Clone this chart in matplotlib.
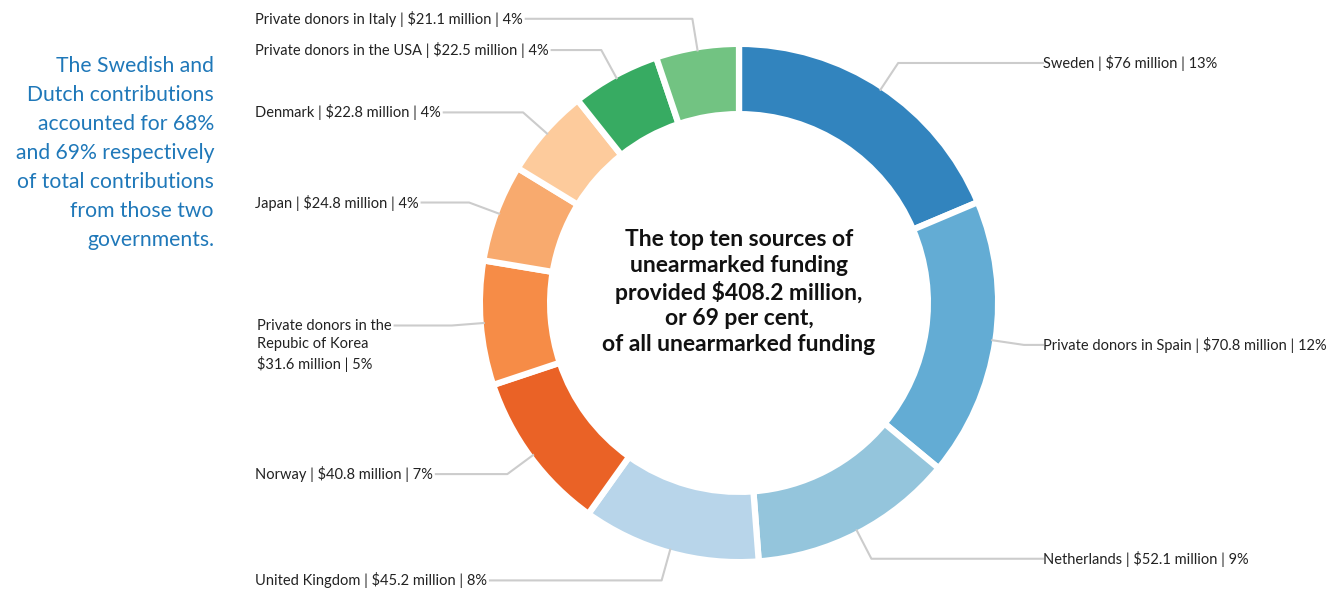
import numpy as np
import matplotlib
matplotlib.use("Agg")
import matplotlib.pyplot as plt

# ---- data ----
donors = ["Sweden", "Private donors in Spain", "Netherlands", "United Kingdom", "Norway",
          "Private donors in the\nRepubic of Korea\n", "Japan", "Denmark",
          "Private donors in the USA", "Private donors in Italy"]
values = [76, 70.8, 52.1, 45.2, 40.8, 31.6, 24.8, 22.8, 22.5, 21.1]
percents = [13, 12, 9, 8, 7, 5, 4, 4, 4, 4]
colors = ["#3284be", "#63acd4", "#94c5dc", "#b8d5ea", "#ea6226",
          "#f68c47", "#f8aa6e", "#fdcb9c", "#37ab62", "#72c382"]
center_text = ("The top ten sources of\nunearmarked funding\nprovided $408.2 million,\n"
               "or 69 per cent,\nof all unearmarked funding")
side_note = ("The Swedish and\nDutch contributions\naccounted for 68%\nand 69% respectively\n"
             "of total contributions\nfrom those two\ngovernments.")

FONT = "Lato"
W, H = 1336, 592
fig = plt.figure(figsize=(W / 100, H / 100), dpi=100)
ax = fig.add_axes([0, 0, 1, 1])

cx, cy = 739, H - 303
R_out, R_in = 256, 192
gap_pt = 4.5
gap_px = gap_pt * 100 / 72

wedges, _ = ax.pie(values, colors=colors, startangle=90, counterclock=False,
                   center=(cx, cy), radius=R_out + gap_px / 2,
                   wedgeprops=dict(width=(R_out - R_in) + gap_px, edgecolor="white",
                                   linewidth=gap_pt, joinstyle="round"))
ax.set_xlim(0, W)
ax.set_ylim(0, H)
ax.set_aspect("equal")
ax.axis("off")

fig.canvas.draw()
renderer = fig.canvas.get_renderer()

line_col = "#cccccc"
LFS = 10.5
for w, name, v, p in zip(wedges, donors, values, percents):
    mid = np.deg2rad((w.theta1 + w.theta2) / 2)
    sx, sy = cx + R_out * np.cos(mid), cy + R_out * np.sin(mid)
    ex, ey = cx + (R_out + 32) * np.cos(mid), cy + (R_out + 32) * np.sin(mid)
    if name.endswith("\n"):
        label = f"{name}${v:g} million | {p}%"
    else:
        label = f"{name} | ${v:g} million | {p}%"
    if np.cos(mid) >= 0:
        tx = 1043
        ax.plot([sx, ex, tx], [sy, ey, ey], color=line_col, lw=1.5, solid_joinstyle="round")
        ax.text(tx, ey, label, ha="left", va="center", fontsize=LFS, family=FONT, color="#222222")
    else:
        tx = 255
        if "\n" in label:
            t = ax.text(tx + 2, ey + 7, label, ha="left", va="top", fontsize=LFS, family=FONT,
                        color="#222222", linespacing=1.4)
        else:
            t = ax.text(tx, ey, label, ha="left", va="center", fontsize=LFS, family=FONT,
                        color="#222222")
        bb = t.get_window_extent(renderer).transformed(ax.transData.inverted())
        ax.plot([sx, ex, bb.x1 + 3], [sy, ey, ey], color=line_col, lw=1.5, solid_joinstyle="round")

ax.text(cx, H - 292, center_text, ha="center", va="center", fontsize=16.5, fontweight="bold",
        family=FONT, color="#111111", linespacing=1.27)
ax.text(214, H - 153, side_note, ha="right", va="center", fontsize=15.2, family=FONT,
        color="#1f78b9", linespacing=1.57)

fig.savefig("out.png", dpi=100, facecolor="white")
